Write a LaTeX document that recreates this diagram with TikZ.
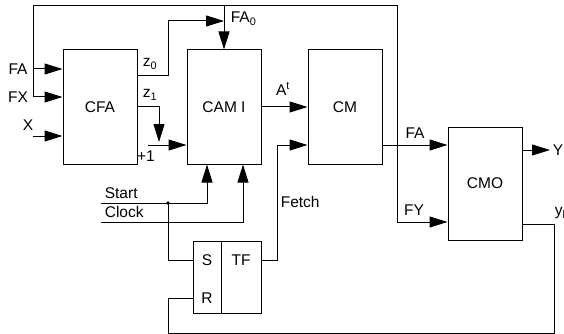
\documentclass[tikz,border=0pt]{standalone}
\usepackage{fontspec}
\setmainfont{Liberation Sans}
\usetikzlibrary{arrows.meta}
\tikzset{bloc/.style={draw, minimum width=74pt, minimum height=114pt, inner sep=0pt},
  bascule/.style={draw, minimum height=72pt, inner sep=0pt}}

\begin{document}
\begin{tikzpicture}[x=1pt, y=-1pt, >={Triangle[length=18pt,width=11pt]}, line width=1pt,
  font=\fontsize{15.5}{18}\selectfont]
\useasboundingbox (0,0) rectangle (564,334);
% blocs
\node[bloc] (cfa) at (100,107) {CFA};
\node[bloc] (cam) at (224,107) {CAM I};
\node[bloc] (cm) at (345,107) {CM};
\node[bloc, minimum height=113pt] (cmo) at (485,183.5) {CMO};
% bascule S-R / TF
\node[bascule, minimum width=28pt] (sr) at (207,277) {};
\node[bascule, minimum width=40pt] (tf) at (241,277) {};
\node (ls) at (207,260) {S};
\node (lr) at (207,298) {R};
\node (ltf) at (241,260) {TF};
% points de passage
\coordinate (hg) at (33,6);
\coordinate (hd) at (397,6);
\coordinate (eFA) at (33,69);
\coordinate (eFX) at (33,97);
\coordinate (eX) at (33,136);
\coordinate (p1) at (148,145);
\coordinate (eStart) at (101,203);
\coordinate (eClock) at (101,222);
\coordinate (dot) at (168,203);
\coordinate (fet) at (277,260);
\coordinate (sY) at (550,150);
\coordinate (bd) at (554,333);
\coordinate (bg) at (168,333);
% boucle du haut
\draw[->] (eFX) -- (hg) -- (hd) |- ([yshift=-38.5pt]cmo.west);
\draw[->] (cam.north |- hg) -- (cam.north);
% entrees de CFA
\draw[->] (eFA) -- (eFA -| cfa.west);
\draw[->] (eFX) -- (eFX -| cfa.west);
\draw[->] (eX) -- (eX -| cfa.west);
% sorties z0, z1
\draw[->] ([yshift=31pt]cfa.east) -- (168,76) -- (168,21) -- (cam.north |- 0,21);
\draw[->] (cfa.east) -| (159,142);
\draw[->] (p1) -- (p1 -| cam.west);
% CAM I -> CM -> CMO
\draw[->] (cam.east) -- (cm.west);
\draw[->] ([yshift=-38pt]cm.east) -- ([yshift=38.5pt]cmo.west);
\draw[->] (sY -| cmo.east) -- (sY);
% Fetch
\draw[->] (fet -| tf.east) -- (fet) |- ([yshift=-38pt]cm.west);
% retour yl
\draw ([yshift=-40.5pt]cmo.east) -| (bd) -- (bg) |- (lr -| sr.west);
% Start, Clock
\draw[->] (eStart) -| ([xshift=-17pt]cam.south);
\draw[->] (eClock) -| ([xshift=19pt]cam.south);
\fill (dot) circle (1.8pt);
\draw (dot) |- (ls -| sr.west);
% etiquettes
\node (lFA) at (18,69) {FA};
\node (lFX) at (18,97) {FX};
\node (lX) at (28,125) {X};
\node (lz0) at (150,64) {z\textsubscript{0}};
\node (lz1) at (150,95) {z\textsubscript{1}};
\node (lp1) at (146,156) {+1};
\node[anchor=west] (lFA0) at (227,19) {FA\textsubscript{0}};
\node (lAt) at (283,89) {A\textsuperscript{t}};
\node[anchor=west] (lFetch) at (277,202) {Fetch};
\node (lFAo) at (415,133) {FA};
\node (lFY) at (414,210) {FY};
\node[anchor=west] (lY) at (549,150) {Y};
\node[anchor=west] (lyl) at (551,213) {y\textsubscript{l}};
\node[anchor=west] (lStart) at (101,193) {Start};
\node[anchor=west] (lClock) at (101,212) {Clock};
\end{tikzpicture}
\end{document}
